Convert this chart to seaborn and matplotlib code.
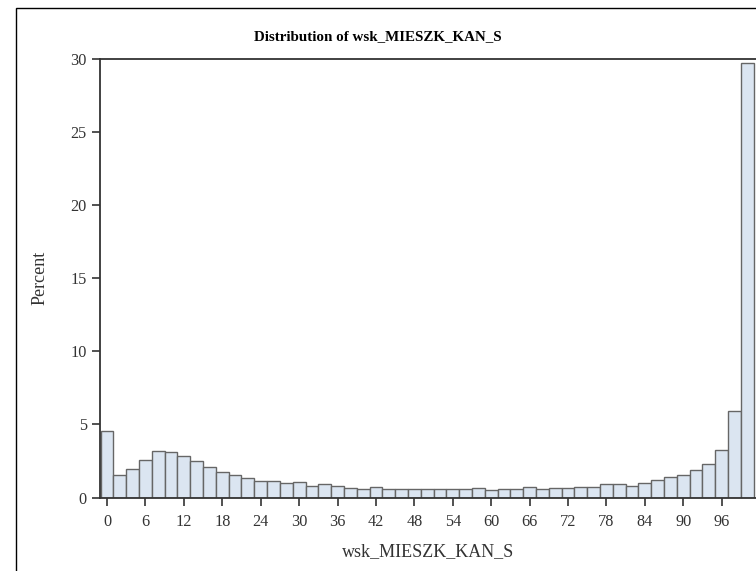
import numpy as np
import pandas as pd
import seaborn as sns
import matplotlib.pyplot as plt
from matplotlib.patches import Rectangle

# bin centers (width 2) and percent per bin
bin_centers = [0, 2, 4, 6, 8, 10, 12, 14, 16, 18,
               20, 22, 24, 26, 28, 30, 32, 34, 36, 38,
               40, 42, 44, 46, 48, 50, 52, 54, 56, 58,
               60, 62, 64, 66, 68, 70, 72, 74, 76, 78,
               80, 82, 84, 86, 88, 90, 92, 94, 96, 98, 100]
percents = [4.58, 1.55, 1.94, 2.58, 3.17, 3.13, 2.85, 2.49, 2.12, 1.76,
            1.53, 1.30, 1.12, 1.12, 1.00, 1.05, 0.78, 0.89, 0.80, 0.68,
            0.60, 0.73, 0.60, 0.55, 0.60, 0.55, 0.60, 0.55, 0.55, 0.62,
            0.50, 0.60, 0.60, 0.73, 0.60, 0.68, 0.68, 0.71, 0.71, 0.89,
            0.89, 0.82, 1.00, 1.19, 1.37, 1.53, 1.87, 2.30, 3.26, 5.95, 29.75]
x_ticks = list(range(0, 97, 6))
y_ticks = [0, 5, 10, 15, 20, 25, 30]

df = pd.DataFrame({'wsk_MIESZK_KAN_S': bin_centers, 'Percent': percents})

sns.set_style('white')
plt.rcParams['font.family'] = ['Liberation Serif', 'DejaVu Serif']

W, H = 756, 571
fig = plt.figure(figsize=(W / 100, H / 100), dpi=100)
ax = fig.add_axes([100 / W, (H - 497.5) / H, 662 / W, (497.5 - 59) / H])

sns.histplot(data=df, x='wsk_MIESZK_KAN_S', weights='Percent', binwidth=2, binrange=(-1, 101),
             color='#dbe5f1', edgecolor='#666666', linewidth=1.0, alpha=1.0, ax=ax)

ax.set_xlim(-1.1, 102.3)
ax.set_ylim(0, 30)
ax.set_xticks(x_ticks)
ax.set_yticks(y_ticks)
ax.set_xlabel('')
ax.set_ylabel('')
ax.tick_params(axis='both', direction='out', length=5.5, width=1.2, color='#333333',
               labelsize=11.7, labelcolor='#333333', pad=4, bottom=True, left=True)
ax.tick_params(axis='x', pad=6.5)
for side in ['left', 'bottom', 'top', 'right']:
    ax.spines[side].set_color('#333333')
    ax.spines[side].set_linewidth(1.3)

fig.text(378 / W, 1 - 37 / H, 'Distribution of wsk_MIESZK_KAN_S', ha='center', va='center',
         fontsize=10.8, fontweight='bold', color='black')
fig.text(428 / W, 1 - 552 / H, 'wsk_MIESZK_KAN_S', ha='center', va='center',
         fontsize=13, color='#333333')
fig.text(40 / W, 1 - 278 / H, 'Percent', ha='center', va='center', rotation=90,
         fontsize=13, color='#333333')

# outer frame of the graph
fig.patches.append(Rectangle((16 / W, -0.1), 1.2, 1.1 - 8 / H, transform=fig.transFigure,
                             fill=False, edgecolor='black', linewidth=1.0))

fig.savefig('out.png', dpi=100, facecolor='white')
